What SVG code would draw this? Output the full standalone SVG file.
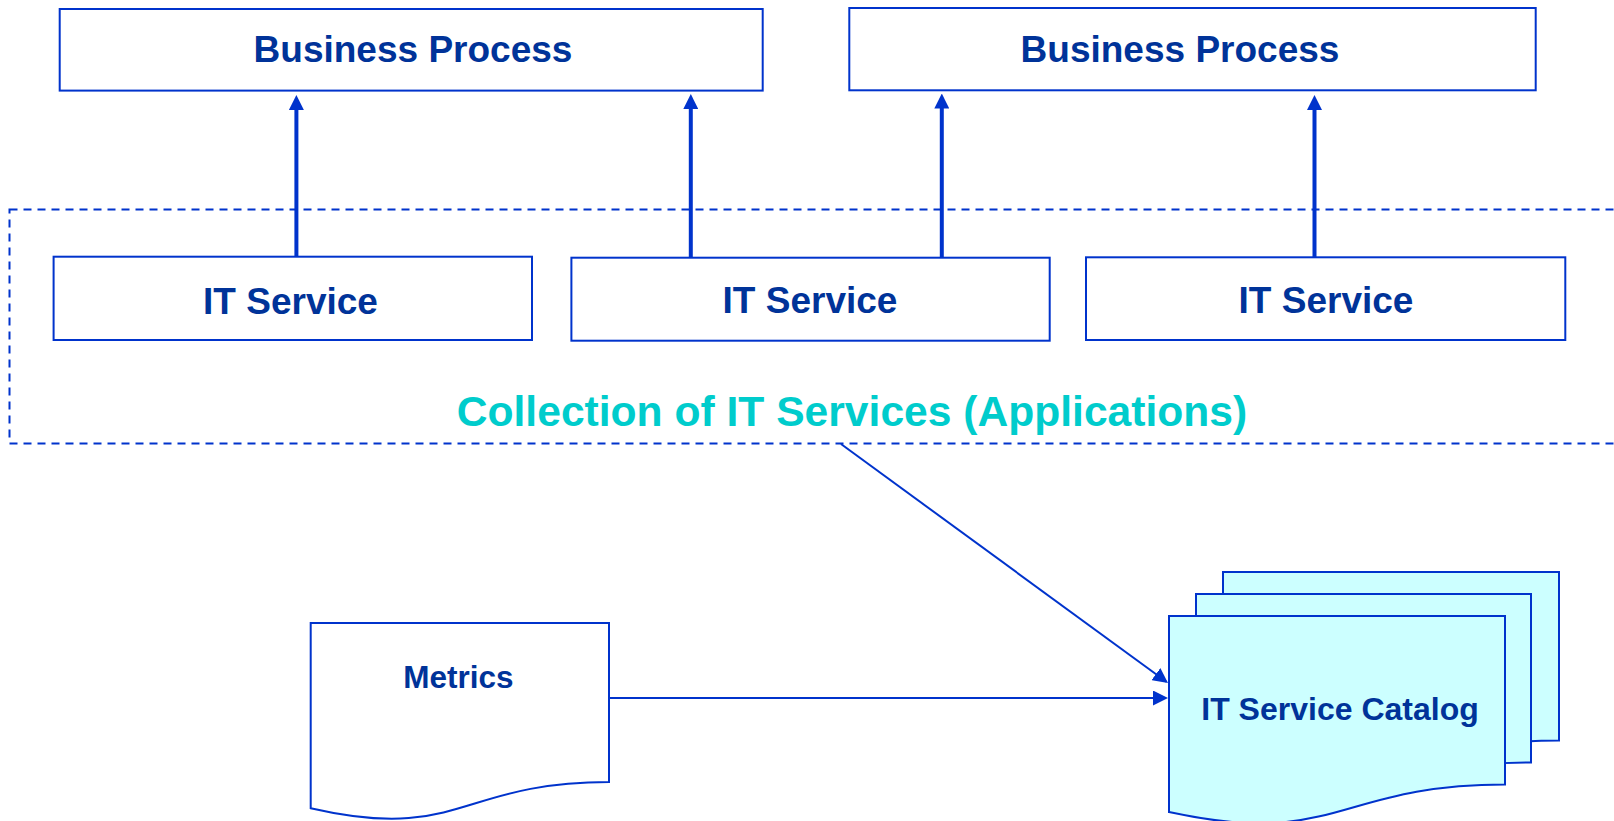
<svg xmlns="http://www.w3.org/2000/svg" width="1614" height="821" viewBox="0 0 1614 821">
  <style>
    .box { fill: #ffffff; stroke: #0033cc; stroke-width: 2; }
    .doc { fill: #ffffff; stroke: #0033cc; stroke-width: 2; stroke-linejoin: miter; }
    .cat { fill: #ccffff; stroke: #0033cc; stroke-width: 2; }
    .lbl { font-family: "Liberation Sans", Arial, Helvetica, sans-serif; font-weight: bold; fill: #003399; text-anchor: middle; }
    .big { font-size: 37px; }
    .small { font-size: 31.5px; }
    .catalog-title { font-size: 32px; }
    .group-title { font-family: "Liberation Sans", Arial, Helvetica, sans-serif; font-weight: bold; font-size: 42.6px; fill: #00cccc; text-anchor: middle; }
    .frame { fill: none; stroke: #0033cc; stroke-width: 2; stroke-dasharray: 8 6; }
    .thick { stroke: #0033cc; stroke-width: 4; fill: none; marker-end: url(#headBig); }
    .thin { stroke: #0033cc; stroke-width: 2; fill: none; marker-end: url(#headSmall); }
  </style>
  <defs>
    <marker id="headBig" markerUnits="userSpaceOnUse" markerWidth="15" markerHeight="15" refX="10" refY="7.5" orient="auto">
      <path d="M0,0 L15,7.5 L0,15 Z" fill="#0033cc"/>
    </marker>
    <marker id="headSmall" markerUnits="userSpaceOnUse" markerWidth="15" markerHeight="15" refX="13" refY="7.5" orient="auto">
      <path d="M0,0 L15,7.5 L0,15 Z" fill="#0033cc"/>
    </marker>
  </defs>

  <rect x="0" y="0" width="1614" height="821" fill="#ffffff"/>

  <!-- dashed application boundary (runs off the right edge) -->
  <g id="collection">
    <rect class="frame" x="9.5" y="209.5" width="1700" height="234"/>
    <text class="group-title" x="852" y="426">Collection of IT Services (Applications)</text>
  </g>

  <g id="bp1">
    <rect class="box" x="59.7" y="9" width="703" height="81.6"/>
    <text class="lbl big" x="413" y="62">Business Process</text>
  </g>
  <g id="bp2">
    <rect class="box" x="849.3" y="8" width="686.4" height="82.3"/>
    <text class="lbl big" x="1180" y="62">Business Process</text>
  </g>

  <g id="its1">
    <rect class="box" x="53.6" y="256.7" width="478.4" height="83.3"/>
    <text class="lbl big" x="290.5" y="314">IT Service</text>
  </g>
  <g id="its2">
    <rect class="box" x="571.4" y="257.7" width="478.3" height="83"/>
    <text class="lbl big" x="810" y="313">IT Service</text>
  </g>
  <g id="its3">
    <rect class="box" x="1086" y="257.3" width="479.3" height="82.7"/>
    <text class="lbl big" x="1326" y="313">IT Service</text>
  </g>

  <g id="metrics">
    <path class="doc" d="M310.7,623 H609 V782 C459.9,782 459.9,842.6 310.7,808.2 Z"/>
    <text class="lbl small" x="458.5" y="688">Metrics</text>
  </g>

  <g id="catalog">
    <path class="cat" d="M1223,572 H1559 V740.4 C1391,740.4 1391,804.6 1223,768.1 Z"/>
    <path class="cat" d="M1196,594 H1531 V762.4 C1363.5,762.4 1363.5,826.6 1196,790.1 Z"/>
    <path class="cat" d="M1169,616 H1505 V784.4 C1337,784.4 1337,848.6 1169,812.1 Z"/>
    <text class="lbl catalog-title" x="1340" y="719.5">IT Service Catalog</text>
  </g>

  <g id="connectors">
    <line class="thick" x1="296.4" y1="256.7" x2="296.4" y2="100"/>
    <line class="thick" x1="690.8" y1="257.7" x2="690.8" y2="99"/>
    <line class="thick" x1="941.8" y1="257.7" x2="941.8" y2="98.5"/>
    <line class="thick" x1="1314.5" y1="257.3" x2="1314.5" y2="100"/>
    <line class="thin" x1="841" y1="444" x2="1166.4" y2="681.8"/>
    <line class="thin" x1="609" y1="698" x2="1166" y2="698"/>
  </g>
</svg>
